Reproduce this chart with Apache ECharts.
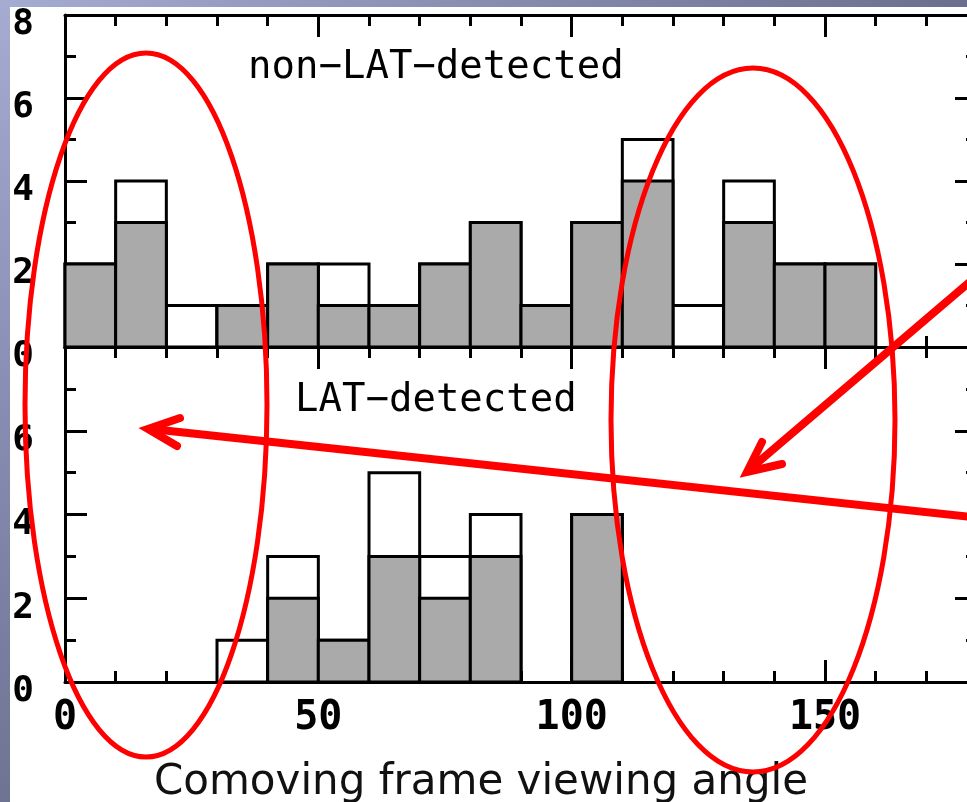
<!DOCTYPE html>
<html>
<head>
<meta charset="utf-8">
<script src="https://cdn.jsdelivr.net/npm/echarts@6/dist/echarts.min.js"></script>
<style>
  html, body { margin: 0; padding: 0; background: #fff; }
  #main { width: 967px; height: 802px; }
</style>
</head>
<body>
<div id="main"></div>
<script>
/*
两个直方图：non-LAT-detected / LAT-detected
横轴：共动系视角，每格 10 度
*/
var binWidth = 10;
var binStarts = [0, 10, 20, 30, 40, 50, 60, 70, 80, 90, 100, 110, 120, 130, 140, 150, 160, 170];

// 上图 non-LAT-detected
var nonLatTotal = [2, 4, 1, 1, 2, 2, 1, 2, 3, 1, 3, 5, 1, 4, 2, 2, 0, 0];
var nonLatGray  = [2, 3, 0, 1, 2, 1, 1, 2, 3, 1, 3, 4, 0, 3, 2, 2, 0, 0];

// 下图 LAT-detected
var latTotal = [0, 0, 0, 1, 3, 1, 5, 3, 4, 0, 4, 0, 0, 0, 0, 0, 0, 0];
var latGray  = [0, 0, 0, 0, 2, 1, 3, 2, 3, 0, 4, 0, 0, 0, 0, 0, 0, 0];

var panelNames = ['non\u2212LAT\u2212detected', 'LAT\u2212detected'];
var axisTitle = 'Comoving frame viewing angle';

var black = '#000';
var grayFill = '#aaaaaa';
var monoFont = '"DejaVu Sans Mono", monospace';

function toPairs(vals) {
  var out = [];
  for (var i = 0; i < binStarts.length; i++) {
    out.push([binStarts[i], vals[i]]);
  }
  return out;
}

function renderBin(fill) {
  return function (params, api) {
    var x0 = api.value(0);
    var v = api.value(1);
    if (!v) return;
    var p0 = api.coord([x0, 0]);
    var p1 = api.coord([x0 + binWidth, v]);
    return {
      type: 'rect',
      shape: { x: p0[0], y: p1[1], width: p1[0] - p0[0], height: p0[1] - p1[1] },
      style: { fill: fill, stroke: black, lineWidth: 3 }
    };
  };
}

// x 轴：短刻度每 10，长刻度每 50（分开两根轴画）
function makeXAxes(gridIndex, showLabels) {
  var tickStyle = { color: black, width: 3 };
  var list = [];
  ['bottom', 'top'].forEach(function (pos) {
    list.push({
      gridIndex: gridIndex, type: 'value', position: pos,
      min: 0, max: 180, interval: 50,
      axisLine: { show: false, onZero: false },
      axisTick: { show: true, inside: true, length: 22, lineStyle: tickStyle },
      axisLabel: {
        show: showLabels && pos === 'bottom',
        margin: 17,
        color: black,
        fontSize: 40,
        fontWeight: 'bold',
        fontFamily: monoFont,
        showMaxLabel: false
      },
      splitLine: { show: false }
    });
    list.push({
      gridIndex: gridIndex, type: 'value', position: pos,
      min: 0, max: 180, interval: 10,
      axisLine: { show: true, onZero: false, lineStyle: { color: black, width: 3 } },
      axisTick: { show: true, inside: true, length: 11, lineStyle: tickStyle },
      axisLabel: { show: false },
      splitLine: { show: false }
    });
  });
  return list;
}

function makeYAxes(gridIndex, showTopLabel) {
  var tickStyle = { color: black, width: 3 };
  var list = [];
  ['left', 'right'].forEach(function (pos) {
    list.push({
      gridIndex: gridIndex, type: 'value', position: pos,
      min: 0, max: 8, interval: 2,
      axisLine: { show: true, onZero: false, lineStyle: { color: black, width: 3 } },
      axisTick: { show: true, inside: true, length: 22, lineStyle: tickStyle },
      minorTick: { show: true, splitNumber: 2, length: 11, lineStyle: tickStyle },
      axisLabel: {
        show: pos === 'left',
        margin: 31,
        color: black,
        fontSize: 36,
        fontWeight: 'bold',
        fontFamily: monoFont,
        verticalAlign: 'top',
        lineHeight: 20,
        showMaxLabel: showTopLabel
      },
      splitLine: { show: false },
      minorSplitLine: { show: false }
    });
  });
  return list;
}

var chart = echarts.init(document.getElementById('main'), null, { renderer: 'canvas' });

var option = {
  animation: false,
  backgroundColor: '#fff',
  grid: [
    { left: 65, top: 15, width: 912, height: 332, outerBoundsMode: 'none', containLabel: false },
    { left: 65, top: 347, width: 912, height: 335, outerBoundsMode: 'none', containLabel: false }
  ],
  xAxis: makeXAxes(0, false).concat(makeXAxes(1, true)),
  yAxis: makeYAxes(0, true).concat(makeYAxes(1, false)),
  series: [
    { type: 'custom', name: 'nonLatTotal', xAxisIndex: 1, yAxisIndex: 0, renderItem: renderBin('#fff'),
      encode: { x: 0, y: 1 }, data: toPairs(nonLatTotal), z: 3 },
    { type: 'custom', name: 'nonLatGray', xAxisIndex: 1, yAxisIndex: 0, renderItem: renderBin(grayFill),
      encode: { x: 0, y: 1 }, data: toPairs(nonLatGray), z: 4 },
    { type: 'custom', name: 'latTotal', xAxisIndex: 5, yAxisIndex: 2, renderItem: renderBin('#fff'),
      encode: { x: 0, y: 1 }, data: toPairs(latTotal), z: 3 },
    { type: 'custom', name: 'latGray', xAxisIndex: 5, yAxisIndex: 2, renderItem: renderBin(grayFill),
      encode: { x: 0, y: 1 }, data: toPairs(latGray), z: 4 }
  ],
  graphic: [
    // 幻灯片边框
    { type: 'rect', z: 1, shape: { x: 0, y: 0, width: 967, height: 7 },
      style: { fill: new echarts.graphic.LinearGradient(0, 0, 1, 0, [
        { offset: 0, color: '#a5acd2' }, { offset: 1, color: '#6b6f8f' }]) } },
    { type: 'rect', z: 1, shape: { x: 0, y: 0, width: 10, height: 802 },
      style: { fill: new echarts.graphic.LinearGradient(0, 0, 0, 1, [
        { offset: 0, color: '#a5abd1' }, { offset: 0.45, color: '#8a90b6' }, { offset: 1, color: '#6f7393' }]) } },
    // 面板文字
    { type: 'text', z: 10, x: 248, y: 68,
      style: { text: panelNames[0], font: '39px ' + monoFont, fill: black, verticalAlign: 'middle' } },
    { type: 'text', z: 10, x: 295, y: 401,
      style: { text: panelNames[1], font: '39px ' + monoFont, fill: black, verticalAlign: 'middle' } },
    { type: 'text', z: 10, x: 481, y: 783,
      style: { text: axisTitle, font: '42px "DejaVu Sans", Verdana, sans-serif', fill: '#111',
        align: 'center', verticalAlign: 'middle' } },
    // 红色标注
    { type: 'ellipse', z: 100, shape: { cx: 146, cy: 405, rx: 121, ry: 352 },
      style: { fill: 'none', stroke: '#ff0000', lineWidth: 5 } },
    { type: 'ellipse', z: 100, shape: { cx: 753, cy: 420, rx: 142, ry: 352 },
      style: { fill: 'none', stroke: '#ff0000', lineWidth: 5 } },
    { type: 'line', z: 100, shape: { x1: 1000, y1: 256, x2: 749, y2: 470 },
      style: { stroke: '#ff0000', lineWidth: 8, lineCap: 'round' } },
    { type: 'polyline', z: 100, shape: { points: [[762, 442], [747, 472], [782, 464]] },
      style: { stroke: '#ff0000', lineWidth: 8, lineCap: 'round', lineJoin: 'miter', fill: 'none' } },
    { type: 'line', z: 100, shape: { x1: 1000, y1: 520, x2: 151, y2: 429 },
      style: { stroke: '#ff0000', lineWidth: 8, lineCap: 'round' } },
    { type: 'polyline', z: 100, shape: { points: [[180, 418], [148, 429], [177, 446]] },
      style: { stroke: '#ff0000', lineWidth: 8, lineCap: 'round', lineJoin: 'miter', fill: 'none' } }
  ]
};

chart.setOption(option);
</script>
</body>
</html>
